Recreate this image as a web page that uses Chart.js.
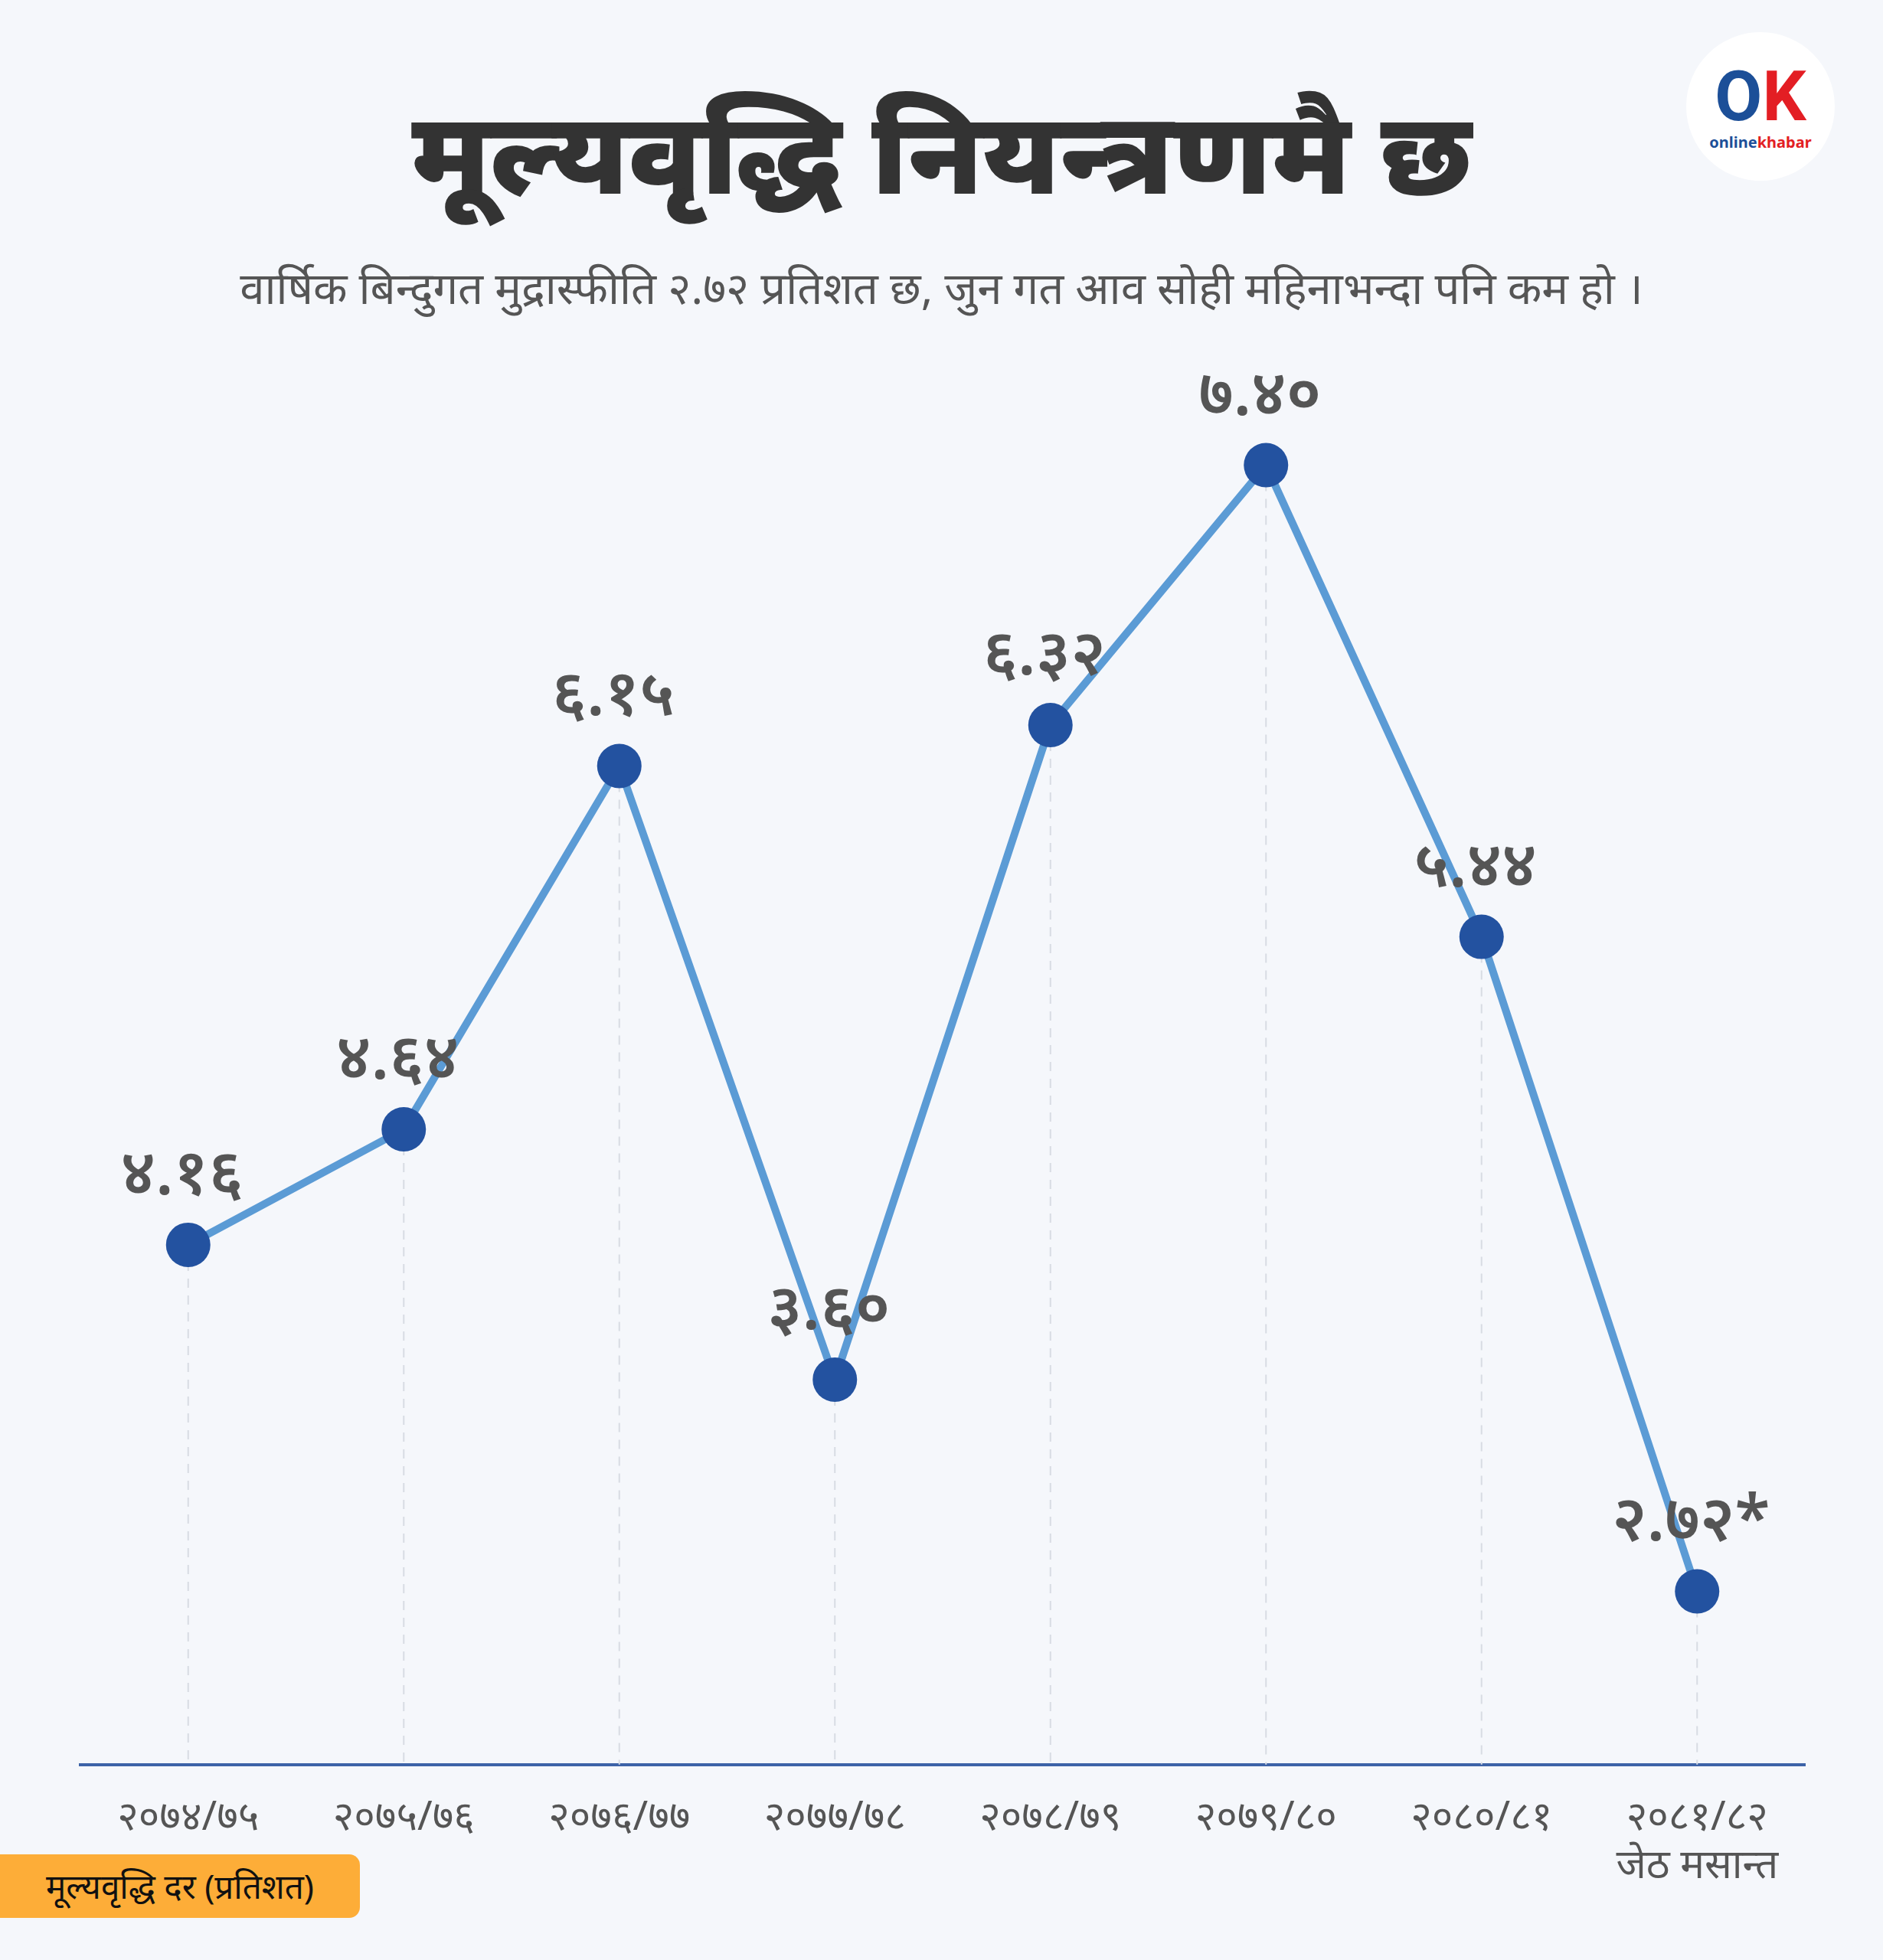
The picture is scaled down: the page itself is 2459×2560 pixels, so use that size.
<!DOCTYPE html>
<html><head><meta charset="utf-8">
<script src="https://cdn.jsdelivr.net/npm/chart.js@4"></script>
<style>
body{margin:0;background:#f5f7fb;width:2459px;height:2560px;position:relative;overflow:hidden;font-family:"Noto Sans","Noto Sans Devanagari",sans-serif}
#t{position:absolute;top:120px;left:0;width:2459px;text-align:center;font-size:150px;font-weight:900;color:#333;line-height:1}
#s{position:absolute;top:335px;left:0;width:2459px;text-align:center;font-size:58px;color:#555}
#logo{position:absolute;left:2202px;top:42px;width:194px;height:194px;border-radius:50%;background:#fff;text-align:center}
#logo b{display:block;margin-top:40px;font-size:90px;line-height:1;font-family:Roboto;font-weight:900}
#logo span{font-size:20px;font-weight:700;color:#1c4f98}
#leg{position:absolute;left:0;top:2422px;width:470px;height:83px;background:#fdad38;border-radius:0 14px 14px 0;font-size:44px;line-height:83px;text-align:center;color:#111}
canvas{position:absolute;left:0;top:0}
</style></head><body>
<div id="t">मूल्यवृद्धि नियन्त्रणमै छ</div>
<div id="s">वार्षिक बिन्दुगत मुद्रास्फीति २.७२ प्रतिशत छ, जुन गत आव सोही महिनाभन्दा पनि कम हो ।</div>
<div id="logo"><b><span style="font-size:90px;color:#1c4f98">O</span><span style="font-size:90px;color:#e31e24">K</span></b><span>online</span><span style="color:#e31e24">khabar</span></div>
<canvas id="c" width="2459" height="2560"></canvas>
<div id="leg">मूल्यवृद्धि दर (प्रतिशत)</div>
<script>
const categories=[["२०७४/७५"],["२०७५/७६"],["२०७६/७७"],["२०७७/७८"],["२०७८/७९"],["२०७९/८०"],["२०८०/८१"],["२०८१/८२","जेठ मसान्त"]];
const values=[4.16,4.64,6.15,3.60,6.32,7.40,5.44,2.72];
const valueLabels=["४.१६","४.६४","६.१५","३.६०","६.३२","७.४०","५.४४","२.७२*"];
const labelPlugin={id:'vl',
beforeDatasetsDraw(ch){const c=ch.ctx;const m=ch.getDatasetMeta(0);c.save();c.strokeStyle='#d8dce3';c.lineWidth=2;c.setLineDash([12,10]);m.data.forEach(p=>{c.beginPath();c.moveTo(p.x,p.y);c.lineTo(p.x,ch.chartArea.bottom);c.stroke();});c.restore();},
afterDatasetsDraw(ch){const c=ch.ctx;const m=ch.getDatasetMeta(0);c.save();c.font='600 84px "Noto Sans",sans-serif';c.fillStyle='#555';c.textAlign='center';c.textBaseline='middle';m.data.forEach((p,i)=>{c.fillText(valueLabels[i],p.x-8,p.y-90);});c.restore();}};
new Chart(document.getElementById('c'),{type:'line',
data:{labels:categories,datasets:[{data:values,borderColor:'#5b9bd5',borderWidth:10,pointRadius:29,pointBackgroundColor:'#2352a0',pointBorderWidth:0,tension:0}]},
options:{responsive:false,animation:false,layout:{padding:{left:105,right:102,top:419,bottom:60}},
plugins:{legend:{display:false},tooltip:{enabled:false}},
scales:{x:{offset:true,grid:{display:false},border:{display:true,color:'#3d63a8',width:4},
 ticks:{color:'#555',font:{size:53,family:'"Noto Sans",sans-serif'},padding:30,maxRotation:0}},
 y:{display:false,min:2,max:8}}},
plugins:[labelPlugin]});
</script></body></html>
